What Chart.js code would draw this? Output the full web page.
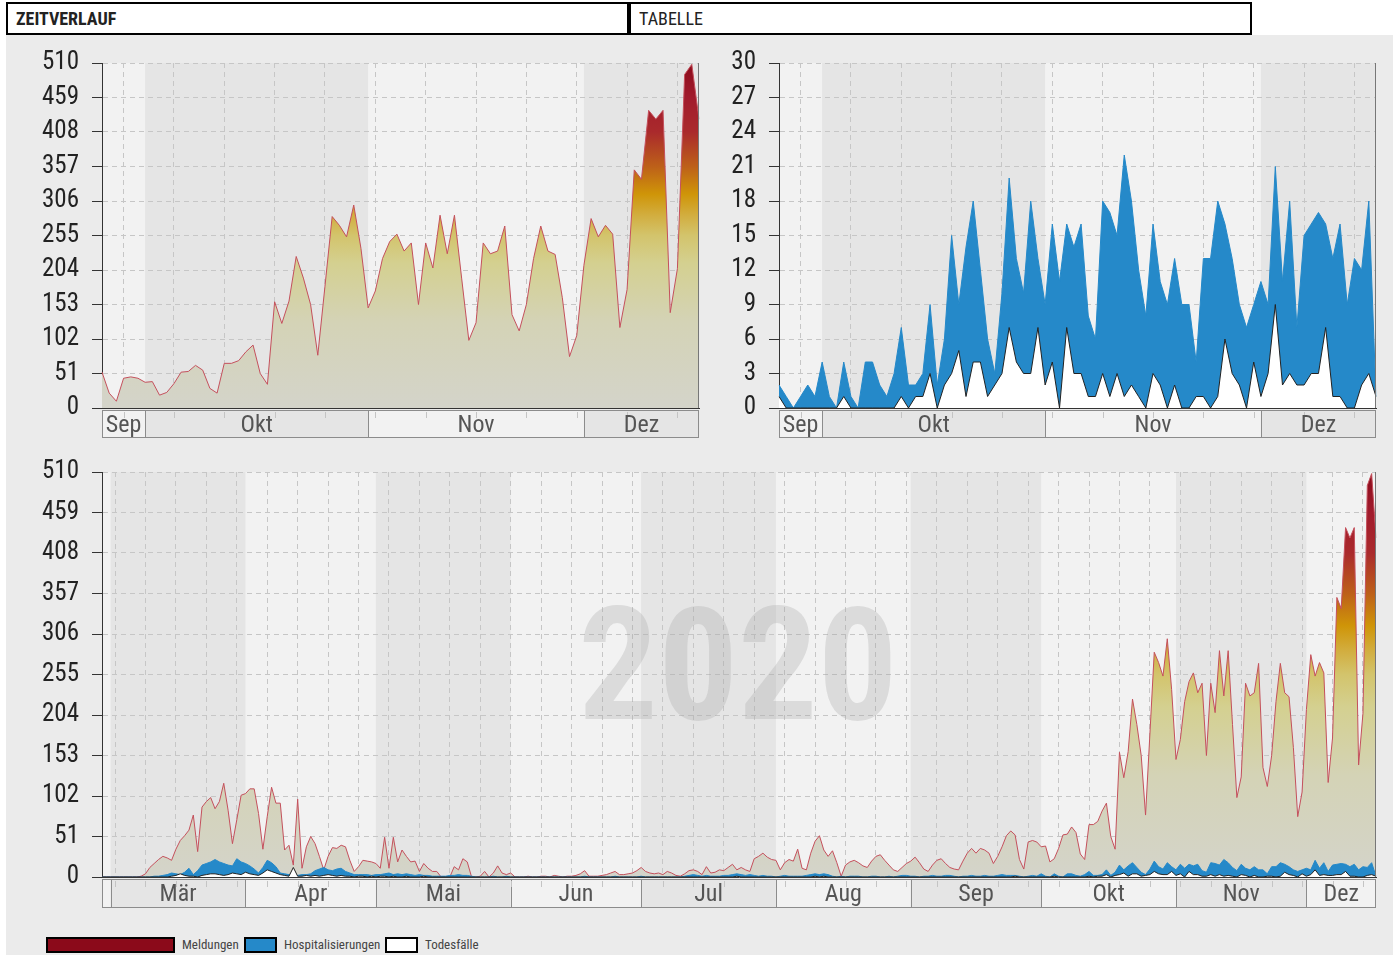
<!DOCTYPE html>
<html lang="de">
<head>
<meta charset="utf-8">
<title>Zeitverlauf</title>
<script src="https://cdn.jsdelivr.net/npm/chart.js@4.4.1/dist/chart.umd.min.js"></script>
<style>
  body { margin: 0; width: 1393px; height: 955px; position: relative; overflow: hidden; background: #fff;
         font-family: 'Roboto Condensed', 'Liberation Sans Narrow', 'DejaVu Sans Condensed', sans-serif; }
  .panel { position: absolute; left: 6px; top: 35px; width: 1387px; height: 920px; background: #ebebeb; }
  .tab { position: absolute; top: 2px; height: 33px; box-sizing: border-box; border: 2px solid #000; background: #fff;
         font-size: 18px; line-height: 29px; padding-left: 8px; color: #222; }
  canvas { position: absolute; }
  .leg { position: absolute; top: 937px; height: 16px; box-sizing: border-box; border: 2px solid #000; }
  .legtxt { position: absolute; top: 936px; font-size: 13px; line-height: 18px; color: #444; }
</style>
</head>
<body>
<div class="panel"></div>
<div class="tab" style="left:6px;width:623px;font-weight:bold;">ZEITVERLAUF</div>
<div class="tab" style="left:629px;width:623px;">TABELLE</div>

<canvas id="meldungenTop" width="700" height="405" style="left:0;top:35px;"></canvas>
<canvas id="spitalTop" width="700" height="405" style="left:677px;top:35px;"></canvas>
<canvas id="jahrChart" width="1377" height="465" style="left:0;top:444px;"></canvas>

<div class="leg" style="left:46px;width:129px;background:#8b0a1a;"></div>
<div class="legtxt" style="left:182px;">Meldungen</div>
<div class="leg" style="left:244px;width:33px;background:#2589c9;"></div>
<div class="legtxt" style="left:284px;">Hospitalisierungen</div>
<div class="leg" style="left:385px;width:33px;background:#fff;"></div>
<div class="legtxt" style="left:425px;">Todesfälle</div>

<script>
// Tage vom 28.02.2020 bis 17.12.2020
var days = [];
for (var i = 0; i < 294; i++) {
    days.push(new Date(Date.UTC(2020, 1, 28 + i)).toISOString().slice(0, 10));
}
var monthNames = ['Jan', 'Feb', 'Mär', 'Apr', 'Mai', 'Jun', 'Jul', 'Aug', 'Sep', 'Okt', 'Nov', 'Dez'];

var meldungen = [
    0, 0, 0, 0, 0, 0, 0, 0, 0, 1,
    4, 12, 17, 22, 26, 24, 21, 35, 46, 52,
    59, 78, 32, 88, 95, 100, 86, 95, 118, 84,
    42, 72, 103, 105, 111, 111, 80, 35, 76, 113,
    93, 93, 34, 40, 15, 98, 11, 38, 51, 42,
    26, 9, 26, 37, 36, 40, 38, 21, 7, 13,
    21, 20, 19, 17, 11, 50, 11, 50, 19, 34,
    26, 19, 20, 7, 17, 11, 7, 7, 0, 0,
    0, 13, 9, 23, 19, 0, 0, 1, 7, 0,
    5, 14, 5, 3, 5, 0, 0, 0, 1, 0,
    0, 1, 1, 0, 2, 1, 0, 1, 1, 2,
    4, 8, 1, 1, 1, 2, 3, 5, 7, 3,
    3, 4, 5, 8, 12, 7, 5, 4, 5, 3,
    7, 5, 2, 1, 4, 8, 9, 7, 3, 13,
    5, 6, 9, 8, 12, 16, 9, 12, 9, 7,
    23, 26, 30, 25, 22, 21, 9, 18, 22, 20,
    35, 11, 9, 30, 45, 52, 34, 26, 33, 18,
    1, 15, 19, 21, 18, 14, 12, 20, 26, 28,
    21, 15, 9, 7, 12, 17, 20, 25, 18, 10,
    7, 15, 21, 23, 17, 12, 10, 9, 20, 30,
    36, 30, 36, 34, 30, 17, 26, 38, 52, 58,
    53, 22, 10, 44, 46, 44, 38, 39, 19, 23,
    36, 53, 54, 63, 56, 29, 22, 66, 66, 70,
    83, 93, 51, 35, 157, 125, 158, 224, 192, 153,
    78, 180, 283, 270, 253, 300, 236, 148, 173, 221,
    246, 257, 232, 244, 153, 244, 207, 285, 228, 285,
    192, 100, 126, 244, 228, 232, 269, 138, 114, 153,
    221, 269, 232, 227, 163, 76, 107, 211, 280, 253,
    270, 257, 119, 175, 352, 338, 440, 427, 440, 141,
    206, 493, 508, 427
];

var hospitalisierungen = [
    0, 0, 0, 0, 0, 0, 0, 0, 0, 0,
    0, 0, 1, 1, 2, 3, 5, 4, 3, 6,
    11, 3, 8, 15, 17, 19, 22, 19, 17, 15,
    14, 23, 19, 17, 14, 10, 5, 12, 21, 18,
    13, 5, 4, 3, 5, 2, 3, 3, 4, 8,
    10, 12, 9, 8, 10, 11, 7, 5, 3, 3,
    3, 3, 2, 3, 3, 4, 5, 3, 4, 3,
    4, 3, 2, 3, 2, 2, 1, 1, 1, 1,
    2, 2, 3, 2, 2, 1, 0, 0, 0, 0,
    1, 0, 0, 1, 0, 0, 0, 0, 0, 0,
    0, 0, 0, 0, 0, 0, 0, 0, 0, 0,
    0, 1, 0, 0, 0, 0, 0, 0, 1, 0,
    0, 0, 0, 0, 1, 0, 0, 0, 0, 0,
    0, 0, 0, 0, 1, 2, 3, 2, 1, 2,
    1, 1, 1, 2, 2, 3, 4, 3, 2, 3,
    2, 1, 2, 1, 1, 0, 1, 2, 1, 1,
    1, 1, 2, 3, 4, 3, 4, 3, 1, 0,
    1, 0, 1, 1, 1, 0, 0, 1, 1, 0,
    0, 1, 0, 1, 2, 2, 1, 1, 0, 1,
    1, 2, 1, 1, 2, 2, 1, 0, 1, 1,
    2, 1, 1, 2, 1, 1, 2, 3, 2, 2,
    2, 1, 0, 1, 2, 1, 4, 1, 0, 4,
    1, 0, 4, 4, 2, 1, 3, 7, 2, 2,
    3, 9, 2, 6, 15, 9, 14, 18, 12, 6,
    3, 10, 20, 13, 10, 18, 13, 9, 16, 11,
    16, 14, 16, 8, 6, 18, 17, 15, 22, 18,
    12, 8, 16, 11, 9, 13, 9, 9, 4, 13,
    13, 18, 16, 13, 9, 7, 9, 11, 9, 21,
    11, 18, 7, 15, 16, 17, 16, 13, 16, 9,
    13, 12, 18, 1
];

var todesfaelle = [
    0, 0, 0, 0, 0, 0, 0, 0, 0, 0,
    0, 0, 0, 0, 0, 0, 1, 2, 4, 2,
    1, 1, 0, 2, 3, 4, 4, 3, 2, 3,
    5, 4, 3, 6, 4, 3, 2, 5, 9, 7,
    5, 3, 2, 1, 12, 1, 1, 2, 1, 2,
    1, 2, 3, 2, 1, 2, 1, 1, 0, 1,
    1, 0, 1, 0, 1, 1, 0, 1, 0, 0,
    1, 0, 0, 0, 1, 0, 0, 0, 0, 0,
    0, 0, 0, 0, 0, 0, 0, 0, 0, 0,
    0, 0, 0, 0, 0, 0, 0, 0, 0, 0,
    0, 0, 0, 0, 0, 0, 0, 0, 0, 0,
    0, 0, 0, 0, 0, 0, 0, 0, 0, 0,
    0, 0, 0, 0, 0, 0, 0, 0, 0, 0,
    0, 0, 0, 0, 0, 0, 0, 0, 0, 0,
    0, 0, 0, 0, 0, 0, 1, 0, 0, 0,
    0, 0, 0, 0, 0, 0, 0, 0, 0, 0,
    0, 0, 0, 0, 1, 0, 1, 0, 0, 0,
    0, 0, 0, 0, 0, 0, 0, 0, 0, 0,
    0, 0, 0, 0, 0, 0, 0, 0, 0, 0,
    0, 0, 0, 0, 0, 0, 0, 0, 0, 0,
    0, 0, 0, 0, 0, 0, 0, 0, 0, 0,
    1, 0, 0, 0, 0, 0, 0, 0, 0, 1,
    0, 0, 0, 0, 0, 0, 0, 1, 0, 1,
    1, 3, 0, 2, 3, 5, 1, 4, 4, 1,
    2, 3, 7, 4, 3, 3, 7, 2, 4, 0,
    7, 3, 3, 1, 1, 3, 1, 3, 1, 2,
    1, 0, 3, 2, 0, 2, 0, 0, 1, 1,
    0, 1, 6, 3, 2, 0, 4, 1, 3, 9,
    2, 3, 2, 2, 3, 3, 7, 1, 1, 0,
    0, 2, 3, 1
];

var meldungenMax = 510;
var topDays = 84;

var FONT = "'Roboto Condensed', 'Liberation Sans Narrow', 'DejaVu Sans Condensed', sans-serif";

function isMonday(label) {
    return new Date(label + 'T00:00:00Z').getUTCDay() === 1;
}

function monthSpans(labels) {
    var spans = [];
    labels.forEach(function (l, i) {
        var m = parseInt(l.slice(5, 7), 10) - 1;
        if (!spans.length || spans[spans.length - 1].month !== m) {
            spans.push({ month: m, start: i });
        }
    });
    spans.forEach(function (s, k) {
        s.next = k + 1 < spans.length ? spans[k + 1].start : labels.length;
    });
    return spans;
}

// Hintergrund, Monatsstreifen und Achsenkasten
var panelPlugin = {
    id: 'panel',
    beforeDraw: function (chart, args, opts) {
        var ctx = chart.ctx, a = chart.chartArea, x = chart.scales.x;
        var labels = chart.data.labels;
        var spans = monthSpans(labels);
        var y0 = a.bottom + 2, h = opts.boxHeight;
        ctx.save();
        spans.forEach(function (s, k) {
            var x0 = s.start === 0 ? a.left : x.getPixelForValue(s.start);
            var x1 = s.next >= labels.length ? a.right : x.getPixelForValue(s.next);
            ctx.fillStyle = k % 2 === 0 ? '#f2f2f2' : '#e5e5e5';
            ctx.fillRect(x0, a.top, x1 - x0, a.bottom - a.top);
            ctx.fillRect(x0, y0, x1 - x0, h);
            if (k > 0) {
                ctx.strokeStyle = '#8c8c8c';
                ctx.lineWidth = 1;
                ctx.beginPath();
                ctx.moveTo(Math.round(x0) + 0.5, y0);
                ctx.lineTo(Math.round(x0) + 0.5, y0 + h);
                ctx.stroke();
            }
        });
        // Wochenmarken im Achsenkasten
        ctx.strokeStyle = '#c4c4c4';
        labels.forEach(function (l, i) {
            if (!isMonday(l)) return;
            var px = Math.round(x.getPixelForValue(i)) + 0.5;
            ctx.beginPath();
            ctx.moveTo(px, y0 + 2);
            ctx.lineTo(px, y0 + 8);
            ctx.stroke();
        });
        ctx.strokeStyle = '#8c8c8c';
        ctx.strokeRect(Math.round(a.left) + 0.5, y0 + 0.5, Math.round(a.right - a.left) - 1, h);
        ctx.fillStyle = '#555';
        ctx.font = '24px ' + FONT;
        ctx.textAlign = 'center';
        ctx.textBaseline = 'middle';
        spans.forEach(function (s) {
            var x0 = s.start === 0 ? a.left : x.getPixelForValue(s.start);
            var x1 = s.next >= labels.length ? a.right : x.getPixelForValue(s.next);
            if (x1 - x0 < 30) return;
            ctx.fillText(monthNames[s.month], (x0 + x1) / 2, y0 + h / 2 + 2);
        });
        ctx.restore();
    },
    beforeDatasetsDraw: function (chart, args, opts) {
        if (!opts.watermark) return;
        var ctx = chart.ctx, a = chart.chartArea;
        ctx.save();
        ctx.fillStyle = 'rgba(165,165,165,0.3)';
        ctx.font = 'bold 158px ' + FONT;
        ctx.textAlign = 'center';
        ctx.textBaseline = 'alphabetic';
        ctx.fillText(opts.watermark, (a.left + a.right) / 2 - 1, a.top + 247);
        ctx.restore();
    },
    afterDatasetsDraw: function (chart) {
        var ctx = chart.ctx, a = chart.chartArea;
        ctx.save();
        ctx.strokeStyle = '#777';
        ctx.lineWidth = 1;
        ctx.beginPath();
        ctx.moveTo(Math.round(a.right) - 0.5, a.top);
        ctx.lineTo(Math.round(a.right) - 0.5, a.bottom);
        ctx.stroke();
        ctx.restore();
    }
};

function meldungenFill(c) {
    var chart = c.chart;
    if (!chart.chartArea) return 'rgba(0,0,0,0)';
    var y = chart.scales.y;
    var g = chart.ctx.createLinearGradient(0, y.getPixelForValue(0), 0, y.getPixelForValue(meldungenMax));
    g.addColorStop(0, '#d4d4ca');
    g.addColorStop(0.25, '#d4d3b6');
    g.addColorStop(0.42, '#d4d090');
    g.addColorStop(0.5, '#d3c46c');
    g.addColorStop(0.56, '#d2ad3e');
    g.addColorStop(0.62, '#cf9508');
    g.addColorStop(0.7, '#bd6019');
    g.addColorStop(0.8, '#aa2a2c');
    g.addColorStop(0.9, '#a11b2c');
    g.addColorStop(1, '#8b0a1a');
    return g;
}

function meldungenSet(data) {
    return { label: 'Meldungen', data: data, order: 2, fill: 'origin', backgroundColor: meldungenFill,
             borderColor: '#c4505c', borderWidth: 1 };
}
function hospSet(data) {
    return { label: 'Hospitalisierungen', data: data, order: 1, fill: 'origin', backgroundColor: '#2589c9',
             borderColor: '#2589c9', borderWidth: 1 };
}
function todSet(data) {
    return { label: 'Todesfälle', data: data, order: 0, fill: 'origin', backgroundColor: '#ffffff',
             borderColor: '#222', borderWidth: 1 };
}

function createAreaChart(id, labels, datasets, yMax, yStep, extra) {
    return new Chart(document.getElementById(id), {
        type: 'line',
        data: { labels: labels, datasets: datasets },
        plugins: [panelPlugin],
        options: {
            responsive: false,
            animation: false,
            devicePixelRatio: 1,
            layout: { padding: { top: extra.padTop, right: 1, bottom: 0, left: 0 } },
            elements: { point: { radius: 0 }, line: { tension: 0 } },
            plugins: {
                legend: { display: false },
                tooltip: { enabled: false },
                panel: { boxHeight: extra.boxHeight, watermark: extra.watermark }
            },
            scales: {
                x: {
                    ticks: { display: false, autoSkip: false },
                    grid: {
                        drawTicks: false,
                        color: function (c) {
                            var l = labels[c.index];
                            return l && isMonday(l) ? '#c6c6c6' : 'rgba(0,0,0,0)';
                        }
                    },
                    border: { display: true, color: '#333', width: 1, dash: [5, 4] },
                    afterFit: function (s) { s.height = 32; }
                },
                y: {
                    min: 0,
                    max: yMax,
                    ticks: { stepSize: yStep, color: '#222', padding: 13, font: { family: FONT, size: 25 } },
                    grid: { color: '#c6c6c6', tickColor: '#333', tickLength: 10 },
                    border: { display: true, color: '#333', width: 1, dash: [5, 4] },
                    afterFit: function (s) { s.width = 102; }
                }
            }
        }
    });
}

var topLabels = days.slice(-topDays);

createAreaChart('meldungenTop', topLabels, [meldungenSet(meldungen.slice(-topDays))],
    meldungenMax, 51, { padTop: 17, boxHeight: 27 });

createAreaChart('spitalTop', topLabels,
    [todSet(todesfaelle.slice(-topDays)), hospSet(hospitalisierungen.slice(-topDays))],
    30, 3, { padTop: 17, boxHeight: 27 });

createAreaChart('jahrChart', days,
    [todSet(todesfaelle), hospSet(hospitalisierungen), meldungenSet(meldungen)],
    meldungenMax, 51, { padTop: 15, boxHeight: 28, watermark: '2020' });
</script>
</body>
</html>
